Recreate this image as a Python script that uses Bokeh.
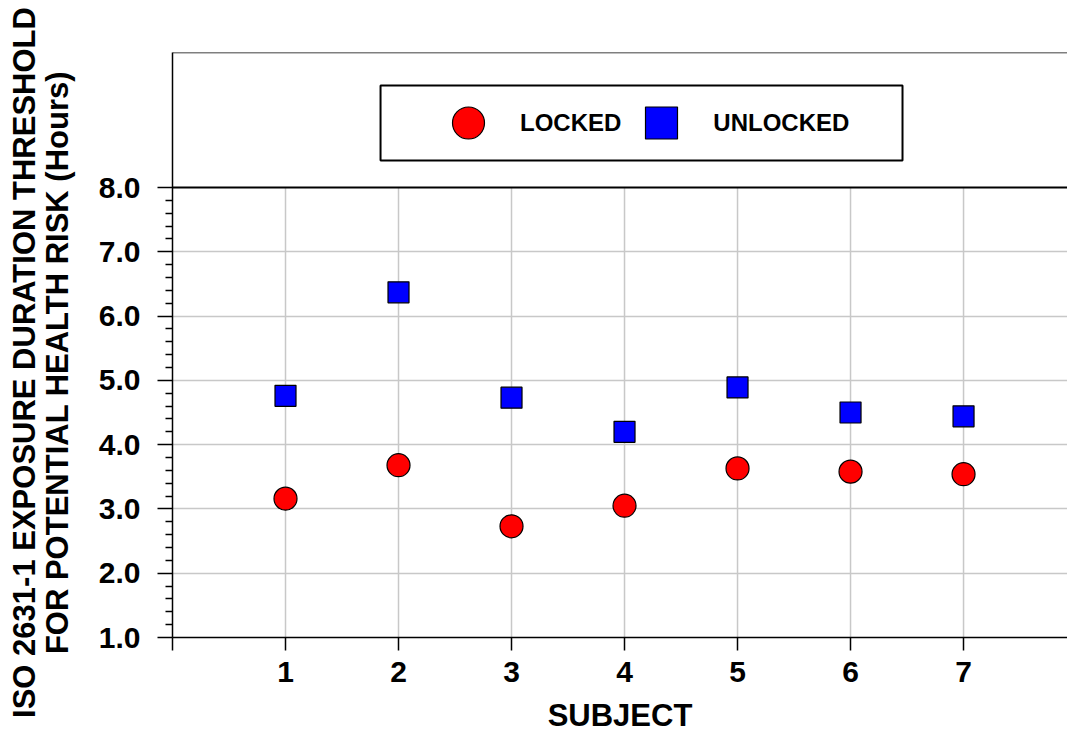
import numpy as np
from bokeh.plotting import figure
from bokeh.layouts import row
from bokeh.core.properties import value
from bokeh.models import (Range1d, FixedTicker, Span, BoxAnnotation, Legend,
                          LegendItem, PrintfTickFormatter)
from bokeh.embed import file_html
from bokeh.resources import INLINE

# ---- data ----
subjects = [1, 2, 3, 4, 5, 6, 7]
locked = [3.16, 3.68, 2.73, 3.05, 3.63, 3.58, 3.54]
unlocked = [4.76, 6.37, 4.73, 4.20, 4.89, 4.50, 4.44]
x_ticks = [0, 1, 2, 3, 4, 5, 6, 7]
y_ticks = [1, 2, 3, 4, 5, 6, 7, 8]
series_names = ["LOCKED", "UNLOCKED"]
x_title = "SUBJECT"
y_title = "ISO 2631-1 EXPOSURE DURATION THRESHOLD\nFOR POTENTIAL HEALTH RISK (Hours)"

# ---- style / layout ----
FONT = "Liberation Sans"
TOTAL_W, TOTAL_H = 1067, 735
TITLE_W = 80
Y_MIN, Y_MAX, Y_TOP = 1.0, 8.0, 10.1
X_MIN, X_MAX = 0.0, 7.92
GRID = "#c8c8c8"

# ---- y-axis title panel (own frame covering the whole height) ----
t = figure(frame_width=TITLE_W, frame_height=TOTAL_H, x_range=Range1d(0, TITLE_W),
           y_range=Range1d(0, TOTAL_H), output_backend="svg",
           toolbar_location=None, min_border=0)
if "frame_align" in t.properties():
    t.frame_align = False
t.axis.visible = False
t.grid.visible = False
t.outline_line_color = None
t.text(x=[6], y=[TOTAL_H - 362], text=[y_title], angle=np.pi / 2,
       text_align="center", text_baseline="top", text_font=value(FONT),
       text_font_style="bold", text_font_size="31px", text_line_height=0.97,
       text_color="black")

# ---- main plot ----
p = figure(width=TOTAL_W - TITLE_W, height=TOTAL_H, x_range=Range1d(X_MIN, X_MAX),
           y_range=Range1d(Y_MIN, Y_TOP), output_backend="svg",
           toolbar_location=None, min_border_left=172 - TITLE_W, min_border_right=0,
           min_border_top=52, min_border_bottom=98)
if "frame_align" in p.properties():
    p.frame_align = False
p.outline_line_color = None
p.background_fill_color = "white"
p.border_fill_color = "white"

# x axis
xa = p.xaxis[0]
xa.ticker = FixedTicker(ticks=x_ticks)
xa.major_label_overrides = {0: ""}
xa.major_tick_out = 13
xa.major_tick_in = 0
xa.minor_tick_line_color = None
xa.major_tick_line_width = 1.5
xa.axis_line_width = 1.5
xa.major_label_standoff = 11
xa.major_label_text_font = FONT
xa.major_label_text_font_style = "bold"
xa.major_label_text_font_size = "30px"
xa.major_label_text_color = "black"
xa.axis_label = x_title
xa.axis_label_text_font = FONT
xa.axis_label_text_font_style = "bold"
xa.axis_label_text_font_size = "31px"
xa.axis_label_text_color = "black"
xa.axis_label_standoff = 13

# y axis
minor = [round(v, 1) for v in np.arange(Y_MIN, Y_MAX, 0.2) if abs(v - round(v)) > 1e-6]
ya = p.yaxis[0]
ya.ticker = FixedTicker(ticks=y_ticks, minor_ticks=minor)
ya.formatter = PrintfTickFormatter(format="%.1f")
ya.major_tick_out = 15
ya.major_tick_in = 0
ya.minor_tick_out = 7
ya.minor_tick_in = 0
ya.major_tick_line_width = 1.5
ya.minor_tick_line_width = 1.5
ya.axis_line_width = 1.5
ya.major_label_standoff = 17
ya.major_label_text_font = FONT
ya.major_label_text_font_style = "bold"
ya.major_label_text_font_size = "30px"
ya.major_label_text_color = "black"

# grids
p.xgrid.visible = False
p.ygrid.ticker = FixedTicker(ticks=y_ticks[1:-1])
p.ygrid.grid_line_color = GRID
p.ygrid.grid_line_width = 1.5
p.segment(x0=subjects, y0=[Y_MIN] * len(subjects), x1=subjects,
          y1=[Y_MAX] * len(subjects), line_color=GRID, line_width=1.5)

# separator line at 8.0 and top border
p.add_layout(Span(location=Y_MAX, dimension="width", line_color="black", line_width=1.8))
p.add_layout(Span(location=Y_TOP, dimension="width", line_color="black", line_width=1.5))

# data
r_locked = p.scatter(subjects, locked, marker="circle", size=23,
                     fill_color="#ff0000", line_color="black", line_width=1.2)
r_unlocked = p.scatter(subjects, unlocked, marker="square", size=21,
                       fill_color="#0000ff", line_color="black", line_width=1.2)

# legend frame
p.add_layout(BoxAnnotation(left=1.841, right=6.460, bottom=8.42, top=9.587,
                           fill_color=None, line_color="black", line_alpha=1,
                           line_width=2))
legend = Legend(items=[LegendItem(label=series_names[0], renderers=[r_locked]),
                       LegendItem(label=series_names[1], renderers=[r_unlocked])],
                orientation="horizontal", location=(256, 471),
                glyph_width=80, glyph_height=87, padding=0, spacing=0,
                label_standoff=12, label_text_font=FONT,
                label_text_font_style="bold", label_text_font_size="24px",
                label_text_color="black", border_line_color=None,
                background_fill_alpha=0, margin=0)
p.add_layout(legend)

layout = row(t, p)
open("out.html", "w").write(file_html(layout, INLINE))
